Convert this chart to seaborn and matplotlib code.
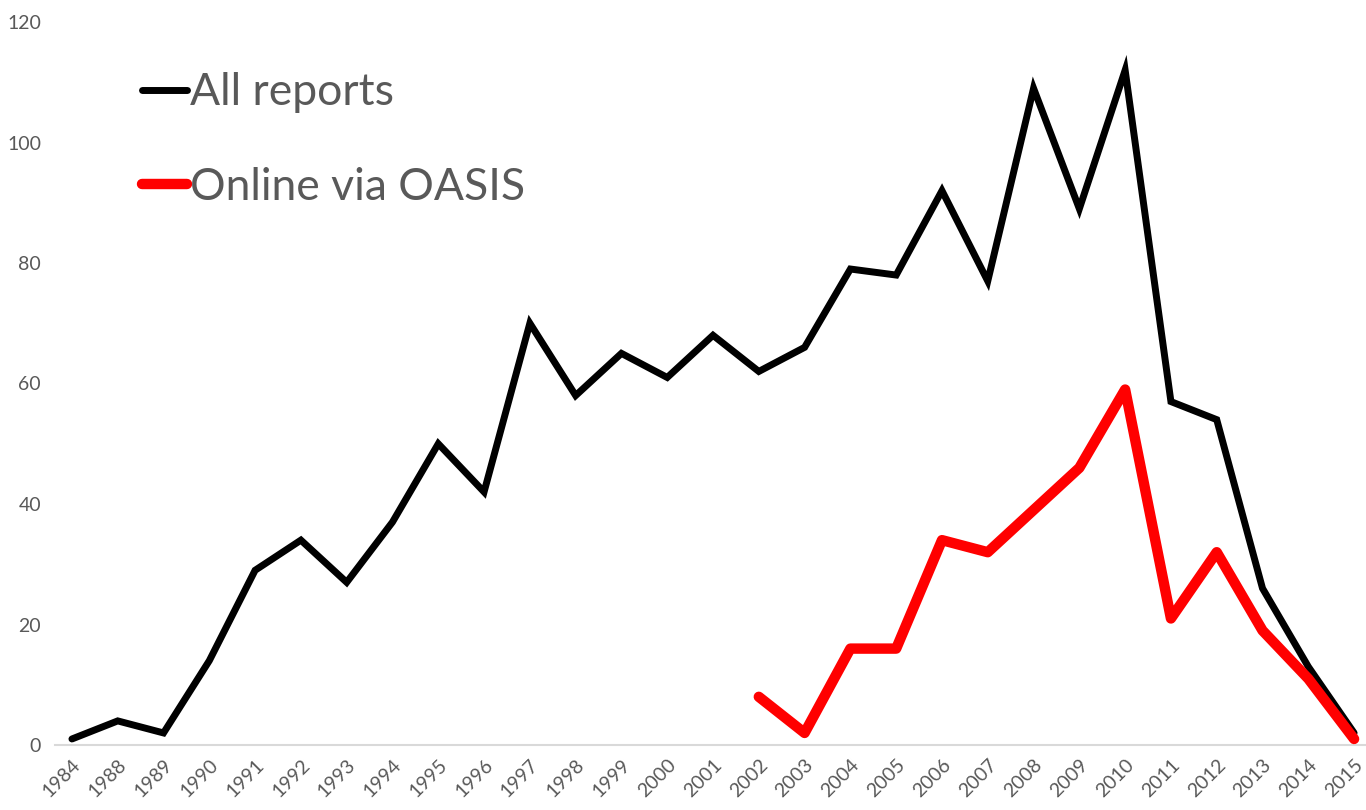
import matplotlib
matplotlib.use('Agg')
import matplotlib.pyplot as plt
import numpy as np
import pandas as pd
import seaborn as sns

years = ['1984', '1988', '1989', '1990', '1991', '1992', '1993', '1994', '1995',
         '1996', '1997', '1998', '1999', '2000', '2001', '2002', '2003', '2004',
         '2005', '2006', '2007', '2008', '2009', '2010', '2011', '2012', '2013',
         '2014', '2015']
all_reports = [1, 4, 2, 14, 29, 34, 27, 37, 50, 42, 70, 58, 65, 61, 68, 62, 66,
               79, 78, 92, 77, 109, 89, 112, 57, 54, 26, 13, 2]
oasis_years = ['2002', '2003', '2004', '2005', '2006', '2007', '2008', '2009',
               '2010', '2011', '2012', '2013', '2014', '2015']
oasis = [8, 2, 16, 16, 34, 32, 39, 46, 59, 21, 32, 19, 11, 1]

# long dataframe, years placed on a category index
pos = {y: i for i, y in enumerate(years)}
df = pd.concat([
    pd.DataFrame({'pos': [pos[y] for y in years], 'value': all_reports,
                  'series': 'All reports'}),
    pd.DataFrame({'pos': [pos[y] for y in oasis_years], 'value': oasis,
                  'series': 'Online via OASIS'}),
])

sns.set_style('white')
plt.rcParams['font.family'] = ['Lato', 'DejaVu Sans']

fig = plt.figure(figsize=(13.66, 8.1), dpi=100)
ax = fig.add_axes([55 / 1366, 65 / 810, 1311 / 1366, 723 / 810])

sns.lineplot(data=df[df['series'] == 'All reports'], x='pos', y='value',
             color='black', linewidth=5, ax=ax, label='All reports',
             solid_joinstyle='miter')
sns.lineplot(data=df[df['series'] == 'Online via OASIS'], x='pos', y='value',
             color='#ff0000', linewidth=7.5, ax=ax, label='Online via OASIS',
             solid_capstyle='round', solid_joinstyle='round')

ax.set_xlim(-0.37, 28.26)
ax.set_ylim(0, 120)
ax.set_yticks(np.arange(0, 121, 20))
ax.set_xticks(range(len(years)))
ax.set_xticklabels(years, rotation=45, ha='right', rotation_mode='anchor')
ax.tick_params(axis='x', colors='#595959', labelsize=14, length=0, pad=8)
ax.tick_params(axis='y', colors='#595959', labelsize=14, length=0, pad=10)
ax.set_xlabel('')
ax.set_ylabel('')

for s in ['top', 'right', 'left']:
    ax.spines[s].set_visible(False)
ax.spines['bottom'].set_color('#d9d9d9')
ax.spines['bottom'].set_linewidth(1.5)
ax.spines['bottom'].set_zorder(0)

leg = ax.legend(loc='upper left', bbox_to_anchor=(0.053, 0.955), frameon=False,
                fontsize=32, handlelength=1.0, handletextpad=0.08,
                labelspacing=1.2, borderaxespad=0)
for t in leg.get_texts():
    t.set_color('#595959')
for h in leg.get_lines():
    h.set_solid_capstyle('round')

plt.savefig('out.png', dpi=100)
plt.close()
